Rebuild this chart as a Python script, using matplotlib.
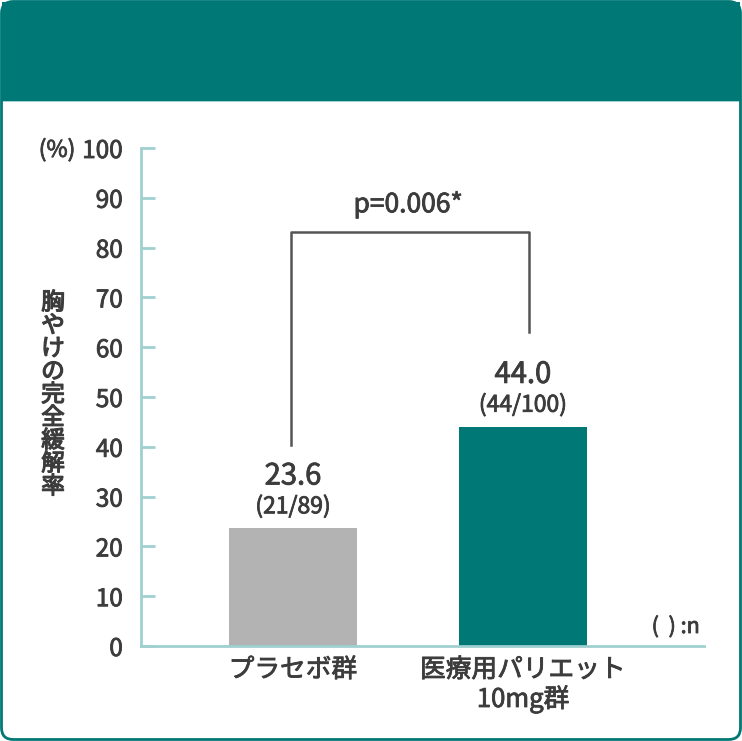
import matplotlib
matplotlib.use("Agg")
import matplotlib.pyplot as plt
import matplotlib.patheffects as pe
from matplotlib.patches import FancyBboxPatch, Rectangle

plt.rcParams['font.family'] = ['Noto Sans CJK JP', 'DejaVu Sans']

categories = ["プラセボ群", "医療用パリエット\n10mg群"]
values = [23.6, 44.0]
value_labels = ["23.6", "44.0"]
n_labels = ["(21/89)", "(44/100)"]
yticks = [0, 10, 20, 30, 40, 50, 60, 70, 80, 90, 100]
ylabel = "胸やけの完全緩解率"
p_text = "p=0.006*"
bracket_y = 83.1
bracket_left_bottom = 40.4
bracket_right_bottom = 63.1

TEAL = "#007875"
GRAY = "#b3b3b3"
AXC = "#9fd0cf"
TXT = "#3c3c3c"
FX = [pe.withStroke(linewidth=0.6, foreground=TXT)]

W, H = 742, 741
fig = plt.figure(figsize=(W / 100, H / 100), dpi=100)
fig.patch.set_facecolor("white")

# header and border
fig.patches.append(Rectangle((2 / W, (H - 101) / H), (W - 4) / W, 99 / H,
                             transform=fig.transFigure, facecolor=TEAL, edgecolor="none", zorder=0))
fig.patches.append(Rectangle((2 / W, (H - 102) / H), (W - 4) / W, 1.5 / H,
                             transform=fig.transFigure, facecolor=AXC, edgecolor="none", zorder=0))
fig.patches.append(FancyBboxPatch((1.5 / W, 1.5 / H), (W - 3) / W, (H - 3) / H,
                                  boxstyle="round,pad=0,rounding_size=0.016",
                                  transform=fig.transFigure, facecolor="none",
                                  edgecolor=TEAL, linewidth=2, zorder=5))

ax_left, ax_right, ax_top, ax_bottom = 141, 704, 148, 646
ax = fig.add_axes([ax_left / W, (H - ax_bottom) / H, (ax_right - ax_left) / W, (ax_bottom - ax_top) / H])
ax.set_facecolor("none")

x = [0, 1]
ax.bar(x, values, width=0.557, color=[GRAY, TEAL], zorder=2)
ax.set_xlim(-0.661, 1.787)
ax.set_ylim(0, 100)

for s in ["top", "right"]:
    ax.spines[s].set_visible(False)
for s in ["left", "bottom"]:
    ax.spines[s].set_color(AXC)
    ax.spines[s].set_linewidth(2)

ax.set_yticks(yticks)
ax.set_yticklabels([str(t) for t in yticks], fontsize=17.5, color=TXT, path_effects=FX)
ax.tick_params(axis="y", direction="in", length=10, width=2, color=AXC, pad=13)
ax.set_xticks(x)
ax.set_xticklabels(categories, fontsize=18.5, color=TXT, linespacing=1.12, path_effects=FX)
ax.tick_params(axis="x", length=0, pad=8)

for xi, v, vl, nl in zip(x, values, value_labels, n_labels):
    ax.annotate(vl, (xi, v), xytext=(0, 52), textcoords="offset pixels",
                ha="center", va="center", fontsize=21, color=TXT, path_effects=FX)
    ax.annotate(nl, (xi, v), xytext=(0, 22), textcoords="offset pixels",
                ha="center", va="center", fontsize=16.5, color=TXT, path_effects=FX)

ax.plot([x[0] - 0.009, x[0] - 0.009, x[1] + 0.026, x[1] + 0.026],
        [bracket_left_bottom, bracket_y, bracket_y, bracket_right_bottom],
        color="#555555", linewidth=1.8, zorder=3)
ax.text(0.5, 88.6, p_text, ha="center", va="center", fontsize=19, color=TXT, path_effects=FX)

fig.text(57 / W, 1 - 150 / H, "(%)", ha="center", va="center", fontsize=16.5, color=TXT, path_effects=FX)
fig.text(53 / W, 1 - 395 / H, "\n".join(ylabel), ha="center", va="center",
         fontsize=17, color=TXT, linespacing=1.0,
         path_effects=[pe.withStroke(linewidth=0.9, foreground=TXT)])
fig.text(700 / W, 1 - 627 / H, "(  ) :n", ha="right", va="center", fontsize=15.5, color=TXT, path_effects=FX)

fig.savefig("out.png", dpi=100, facecolor="white")
